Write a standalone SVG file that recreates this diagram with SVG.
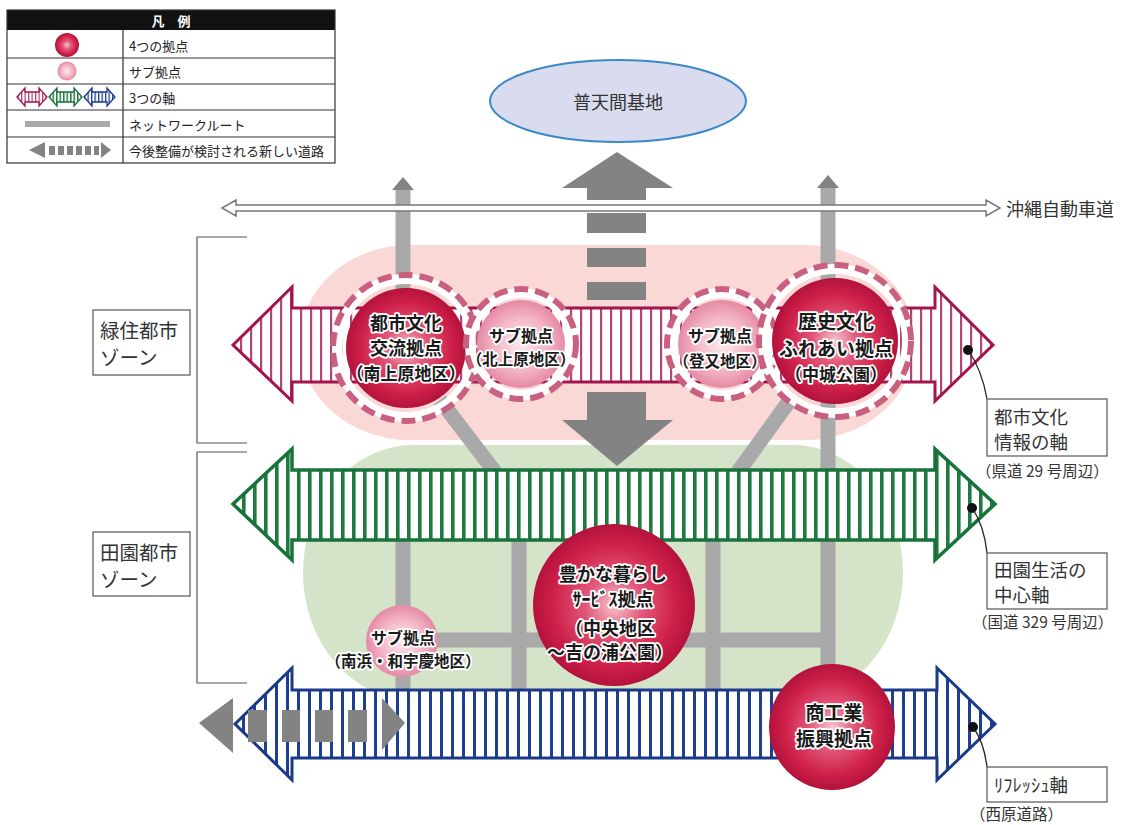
<svg xmlns="http://www.w3.org/2000/svg" width="1134" height="825" viewBox="0 0 1134 825">
<style>
text{font-family:"Noto Sans CJK JP","Noto Sans CJK SC",sans-serif}
.ct{font-weight:700;fill:#1a1a1a;stroke:#fff;stroke-width:3.5px;paint-order:stroke;stroke-linejoin:round;text-anchor:middle;dominant-baseline:central}
.lab{fill:#333;font-size:18.5px;dominant-baseline:central}
.par{fill:#333;font-size:15.5px;dominant-baseline:central}
.zl{fill:#333;font-size:19.5px;dominant-baseline:central}
.lg{fill:#222;font-size:13px;dominant-baseline:central}
.net{stroke:#a9a9a9;stroke-width:15;fill:none}
.box{fill:#fff;stroke:#555;stroke-width:1.2}
.ring{fill:none;stroke:#fff;stroke-width:10}
.dash{fill:none;stroke:#c9607f;stroke-width:6;stroke-dasharray:14 7}
.gray{fill:#838383}
.lead{fill:none;stroke:#222;stroke-width:1.3}
.brk{fill:none;stroke:#555;stroke-width:1.2}
</style>
<defs>
<pattern id="pinkS" patternUnits="userSpaceOnUse" width="10" height="10"><rect width="10" height="10" fill="#fff"/><rect x="0" width="2.2" height="10" fill="#b0457a"/></pattern>
<pattern id="greenS" patternUnits="userSpaceOnUse" width="11" height="10"><rect width="11" height="10" fill="#fff"/><rect x="0" width="3.6" height="10" fill="#1f7a40"/></pattern>
<pattern id="blueS" patternUnits="userSpaceOnUse" width="11" height="10"><rect width="11" height="10" fill="#fff"/><rect x="0" width="3" height="10" fill="#1c3f8f"/></pattern>
<pattern id="pinkSm" patternUnits="userSpaceOnUse" width="3.5" height="10"><rect width="3.5" height="10" fill="#fff"/><rect x="0" width="1.3" height="10" fill="#b0457a"/></pattern>
<pattern id="greenSm" patternUnits="userSpaceOnUse" width="3.5" height="10"><rect width="3.5" height="10" fill="#fff"/><rect x="0" width="1.5" height="10" fill="#1f7a40"/></pattern>
<pattern id="blueSm" patternUnits="userSpaceOnUse" width="3.5" height="10"><rect width="3.5" height="10" fill="#fff"/><rect x="0" width="1.3" height="10" fill="#1c3f8f"/></pattern>
<radialGradient id="redG" cx="50%" cy="50%" r="50%"><stop offset="0" stop-color="#f6c6d0"/><stop offset="0.35" stop-color="#e2587a"/><stop offset="0.75" stop-color="#cf2149"/><stop offset="1" stop-color="#b3123c"/></radialGradient>
<radialGradient id="pinkG" cx="50%" cy="50%" r="50%"><stop offset="0" stop-color="#fde9ee"/><stop offset="0.6" stop-color="#f4b6c6"/><stop offset="1" stop-color="#e58aa4"/></radialGradient>
</defs>
<rect width="1134" height="825" fill="#fff"/>

<g id="legend">
<rect x="7" y="10" width="328" height="20" fill="#111"/>
<text x="171" y="20" fill="#fff" font-size="13" font-weight="700" text-anchor="middle" dominant-baseline="central">凡　例</text>
<rect x="7" y="10" width="328" height="153" fill="none" stroke="#333" stroke-width="1.2"/>
<path d="M7,58H335M7,84H335M7,110H335M7,137H335M123,30V163" stroke="#333" stroke-width="1.2" fill="none"/>
<circle cx="67" cy="45" r="12" fill="url(#redG)"/>
<text class="lg" x="129" y="45">4つの拠点</text>
<circle cx="67" cy="71" r="9.5" fill="url(#pinkG)"/>
<text class="lg" x="129" y="71">サブ拠点</text>
<path d="M17,97 L25,88 L25,92 L39,92 L39,88 L47,97 L39,106 L39,102 L25,102 L25,106 Z" fill="url(#pinkSm)" stroke="#a3144e" stroke-width="1.3"/>
<path d="M49,97 L57,88 L57,92 L74,92 L74,88 L82,97 L74,106 L74,102 L57,102 L57,106 Z" fill="url(#greenSm)" stroke="#17733a" stroke-width="1.3"/>
<path d="M84,97 L92,88 L92,92 L107,92 L107,88 L115,97 L107,106 L107,102 L92,102 L92,106 Z" fill="url(#blueSm)" stroke="#1b3a8a" stroke-width="1.3"/>
<text class="lg" x="129" y="97">3つの軸</text>
<rect x="25" y="121" width="85" height="6" fill="#a9a9a9"/>
<text class="lg" x="129" y="124">ネットワークルート</text>
<path d="M29,150 L45,142 L45,158 Z" class="gray"/>
<rect x="49" y="146" width="6" height="9" class="gray"/>
<rect x="58" y="146" width="6" height="9" class="gray"/>
<rect x="67" y="146" width="6" height="9" class="gray"/>
<rect x="76" y="146" width="6" height="9" class="gray"/>
<rect x="85" y="146" width="6" height="9" class="gray"/>
<rect x="94" y="146" width="5" height="9" class="gray"/>
<path d="M101,142 L111,150 L101,158 Z" class="gray"/>
<text class="lg" x="129" y="150">今後整備が検討される新しい道路</text>
</g>

<g id="zones">
<rect x="300" y="245" width="615" height="195" rx="110" ry="97" fill="#f9d8d5"/>
<rect x="303" y="445" width="600" height="255" rx="110" ry="150" fill="#d5e3c9"/>
</g>

<g id="zone-labels">
<path class="brk" d="M247,237 H197 V443 H247"/>
<path class="brk" d="M247,452 H197 V683 H247"/>
<rect class="box" x="93" y="310" width="97" height="65"/>
<text class="zl" x="100" y="329">緑住都市</text>
<text class="zl" x="100" y="356">ゾーン</text>
<rect class="box" x="93" y="532" width="97" height="64"/>
<text class="zl" x="100" y="551">田園都市</text>
<text class="zl" x="100" y="578">ゾーン</text>
</g>

<g id="connectors">
<path class="net" d="M403,190 V290"/>
<path class="net" d="M828,188 V680"/>
<path class="net" d="M440,400 L495,472"/>
<path class="net" d="M790,400 L738,472"/>
<path class="net" d="M403,540 V690"/>
<path class="net" d="M519,540 V690"/>
<path class="net" d="M713,540 V690"/>
<path class="net" d="M403,640 H828"/>
<path class="gray" d="M395,190 L392,190 L403,177 L414,190 L411,190 Z"/>
<path class="gray" d="M820,188 L817,188 L828,175 L839,188 L836,188 Z"/>
</g>

<g id="futenma-arrow">
<path class="gray" d="M617,152 L673,188 L646,188 L646,200 L587,200 L587,188 L562,188 Z"/>
<rect class="gray" x="587" y="213" width="59" height="20"/>
<rect class="gray" x="587" y="248" width="59" height="19"/>
<rect class="gray" x="587" y="282" width="59" height="18"/>
<rect class="gray" x="587" y="392" width="59" height="30"/>
<path class="gray" d="M562,420 L673,420 L617,466 Z"/>
</g>

<g id="expressway">
<path d="M222,208 L236,200 L236,205 L986,205 L986,200 L1000,208 L986,216 L986,211 L236,211 L236,216 Z" fill="#fff" stroke="#777" stroke-width="1.5"/>
<text x="1006" y="208" fill="#333" font-size="18" dominant-baseline="central">沖縄自動車道</text>
</g>

<g id="axis-pink">
<path d="M233,345 L292,287 L292,308 L935,308 L935,287 L993,345 L935,401 L935,382 L292,382 L292,401 Z" fill="url(#pinkS)" stroke="#a3144e" stroke-width="3" stroke-linejoin="miter"/>
</g>
<g id="axis-green">
<path d="M233,504 L292,449 L292,470 L935,470 L935,449 L995,504 L935,560 L935,540 L292,540 L292,560 Z" fill="url(#greenS)" stroke="#17733a" stroke-width="3.5"/>
</g>
<g id="axis-blue">
<path d="M235,724 L292,668 L292,690 L937,690 L937,668 L995,724 L937,780 L937,758 L292,758 L292,780 Z" fill="url(#blueS)" stroke="#1b3a8a" stroke-width="3"/>
</g>

<g id="new-road">
<path class="gray" d="M199,723 L233,698 L233,753 Z"/>
<rect class="gray" x="248" y="710" width="19" height="32"/>
<rect class="gray" x="282" y="710" width="18" height="32"/>
<rect class="gray" x="315" y="710" width="18" height="32"/>
<rect class="gray" x="348" y="710" width="19" height="32"/>
<path class="gray" d="M382,698 L405,723 L382,750 Z"/>
</g>

<g id="node-minamiuehara">
<circle class="ring" cx="406" cy="348" r="69"/>
<circle class="dash" cx="406" cy="348" r="73"/>
<circle cx="406" cy="348" r="60" fill="url(#redG)"/>
<text class="ct" x="406" y="322" font-size="18">都市文化</text>
<text class="ct" x="406" y="347" font-size="18">交流拠点</text>
<text class="ct" x="406" y="372" font-size="17">（南上原地区）</text>
</g>

<g id="node-kitauehara">
<circle class="ring" cx="521" cy="344" r="51"/>
<circle class="dash" cx="521" cy="344" r="55"/>
<circle cx="521" cy="344" r="44" fill="url(#pinkG)"/>
<text class="ct" x="521" y="335" font-size="16">サブ拠点</text>
<text class="ct" x="521" y="358" font-size="15.5">（北上原地区）</text>
</g>

<g id="node-nobori">
<circle class="ring" cx="722" cy="344" r="51"/>
<circle class="dash" cx="722" cy="344" r="55"/>
<circle cx="722" cy="344" r="44" fill="url(#pinkG)"/>
<text class="ct" x="720" y="335" font-size="16">サブ拠点</text>
<text class="ct" x="720" y="360" font-size="15.5">（登又地区）</text>
</g>

<g id="node-nakagusuku">
<circle class="ring" cx="835" cy="341" r="72"/>
<circle class="dash" cx="835" cy="341" r="76"/>
<circle cx="835" cy="341" r="63" fill="url(#redG)"/>
<text class="ct" x="836" y="320" font-size="19">歴史文化</text>
<text class="ct" x="836" y="347" font-size="19">ふれあい拠点</text>
<text class="ct" x="836" y="373" font-size="17">（中城公園）</text>
</g>

<g id="node-chuo">
<circle cx="614" cy="605" r="81" fill="url(#redG)"/>
<text class="ct" x="613" y="573" font-size="18">豊かな暮らし</text>
<text class="ct" x="613" y="598" font-size="18">ｻｰﾋﾞｽ拠点</text>
<text class="ct" x="610" y="627" font-size="18">（中央地区</text>
<text class="ct" x="610" y="651" font-size="18">～吉の浦公園）</text>
</g>

<g id="node-minamihama">
<circle cx="402" cy="641" r="36" fill="url(#pinkG)"/>
<text class="ct" x="403" y="637" font-size="16">サブ拠点</text>
<text class="ct" x="403" y="660" font-size="15.5">（南浜・和宇慶地区）</text>
</g>

<g id="node-shokogyo">
<circle cx="832" cy="727" r="63" fill="url(#redG)"/>
<text class="ct" x="834" y="711" font-size="19">商工業</text>
<text class="ct" x="834" y="737" font-size="19">振興拠点</text>
</g>

<g id="node-futenma">
<ellipse cx="618" cy="101" rx="128" ry="41" fill="#d9dcef" stroke="#3a88c8" stroke-width="2"/>
<text x="618" y="101" fill="#333" font-size="18" text-anchor="middle" dominant-baseline="central">普天間基地</text>
</g>

<g id="label-pink">
<path class="lead" d="M968,350 Q982,370 987,399"/>
<circle cx="968" cy="350" r="5" fill="#111"/>
<rect class="box" x="987" y="399" width="120" height="57"/>
<text class="lab" x="994" y="416">都市文化</text>
<text class="lab" x="994" y="441">情報の軸</text>
<text class="par" x="976" y="470">（県道 29 号周辺）</text>
</g>

<g id="label-green">
<path class="lead" d="M972,508 Q984,525 987,553"/>
<circle cx="972" cy="508" r="5" fill="#111"/>
<rect class="box" x="987" y="553" width="120" height="56"/>
<text class="lab" x="994" y="569">田園生活の</text>
<text class="lab" x="994" y="594">中心軸</text>
<text class="par" x="972" y="621">（国道 329 号周辺）</text>
</g>

<g id="label-blue">
<path class="lead" d="M973,727 Q984,742 987,767"/>
<circle cx="973" cy="727" r="5" fill="#111"/>
<rect class="box" x="987" y="767" width="120" height="35"/>
<text class="lab" x="994" y="784">ﾘﾌﾚｯｼｭ軸</text>
<text class="par" x="970" y="813">（西原道路）</text>
</g>
</svg>
